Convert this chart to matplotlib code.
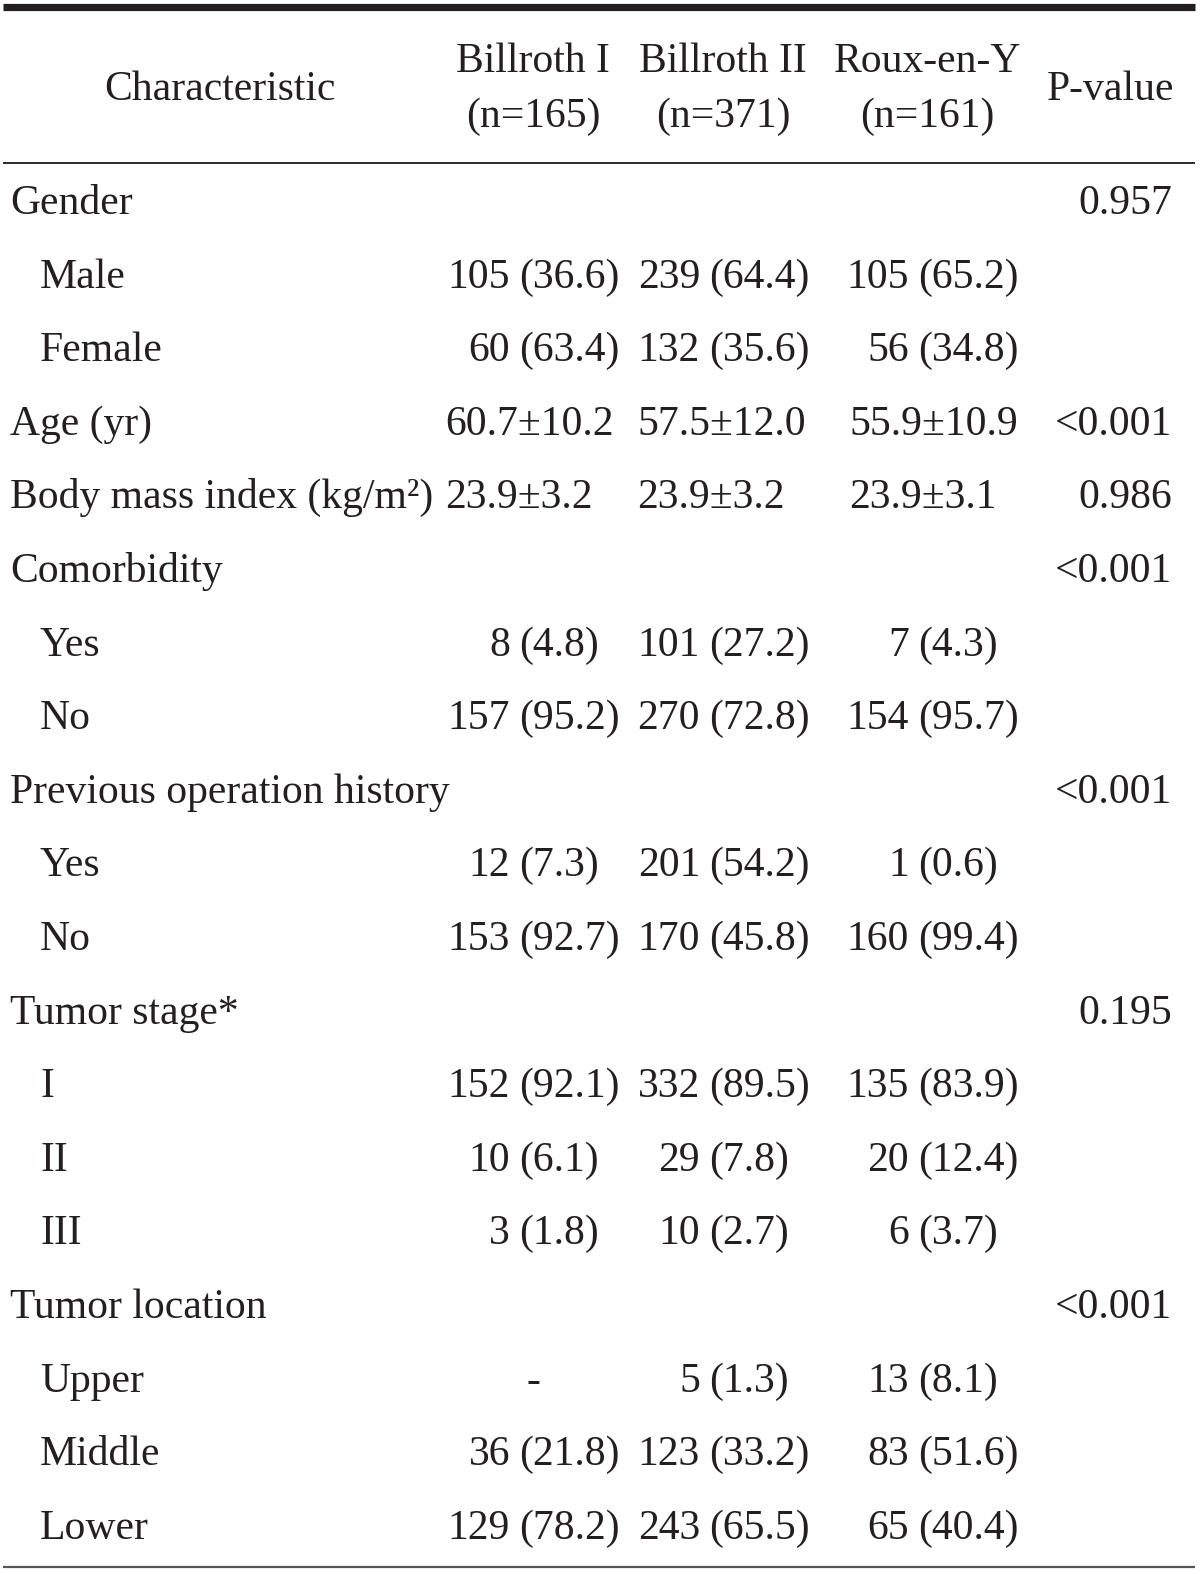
import matplotlib.pyplot as plt

# table content
headers = ["Billroth I\n(n=165)", "Billroth II\n(n=371)", "Roux-en-Y\n(n=161)"]
labels = ["Gender", "Male", "Female", "Age (yr)", "Body mass index (kg/m²)",
          "Comorbidity", "Yes", "No", "Previous operation history", "Yes", "No",
          "Tumor stage*", "I", "II", "III", "Tumor location", "Upper", "Middle", "Lower"]
indent = [0, 1, 1, 0, 0, 0, 1, 1, 0, 1, 1, 0, 1, 1, 1, 0, 1, 1, 1]
billroth1 = ["", "105 (36.6)", "60 (63.4)", "60.7±10.2", "23.9±3.2", "",
             "8 (4.8)", "157 (95.2)", "", "12 (7.3)", "153 (92.7)", "",
             "152 (92.1)", "10 (6.1)", "3 (1.8)", "", "-", "36 (21.8)", "129 (78.2)"]
billroth2 = ["", "239 (64.4)", "132 (35.6)", "57.5±12.0", "23.9±3.2", "",
             "101 (27.2)", "270 (72.8)", "", "201 (54.2)", "170 (45.8)", "",
             "332 (89.5)", "29 (7.8)", "10 (2.7)", "", "5 (1.3)", "123 (33.2)", "243 (65.5)"]
rouxy = ["", "105 (65.2)", "56 (34.8)", "55.9±10.9", "23.9±3.1", "",
         "7 (4.3)", "154 (95.7)", "", "1 (0.6)", "160 (99.4)", "",
         "135 (83.9)", "20 (12.4)", "6 (3.7)", "", "13 (8.1)", "83 (51.6)", "65 (40.4)"]
pvalues = ["0.957", "", "", "<0.001", "0.986", "<0.001", "", "", "<0.001", "", "",
           "0.195", "", "", "", "<0.001", "", "", ""]

W, H = 1200, 1574
fig = plt.figure(figsize=(W / 100, H / 100), dpi=100)
ax = fig.add_axes([0, 0, 1, 1])
ax.set_xlim(0, W)
ax.set_ylim(H, 0)
ax.axis("off")

font = dict(family="Liberation Serif", size=30, color="#231f20")

# rules
ax.plot([3, 1195], [6.5, 6.5], color="#231f20", lw=5.2, solid_capstyle="butt")
ax.plot([3, 1195], [162.5, 162.5], color="#2a2a2a", lw=1.4, solid_capstyle="butt")
ax.plot([3, 1195], [1566.5, 1566.5], color="#555555", lw=1.6, solid_capstyle="butt")

# header
ax.text(220, 100, "Characteristic", ha="center", va="baseline", **font)
col_centers = [533, 723, 927]
for xc, h in zip(col_centers, headers):
    top, bottom = h.split("\n")
    ax.text(xc, 72, top, ha="center", va="baseline", **font)
    ax.text(xc, 127, bottom, ha="center", va="baseline", **font)
ax.text(1111, 100, "P-value", ha="center", va="baseline", **font)

# body
paren_x = [519, 709, 918]
left_x = [445, 637, 849]
y0, dy = 214, 73.6
for i, lab in enumerate(labels):
    yb = y0 + i * dy
    ax.text(10 + 30 * indent[i], yb, lab, ha="left", va="baseline", **font)
    for j, col in enumerate([billroth1, billroth2, rouxy]):
        v = col[i]
        if not v:
            continue
        if "±" in v:
            ax.text(left_x[j], yb, v, ha="left", va="baseline", **font)
        elif "(" in v:
            n, p = v.split(" ", 1)
            ax.text(paren_x[j] - 9, yb, n, ha="right", va="baseline", **font)
            ax.text(paren_x[j], yb, p, ha="left", va="baseline", **font)
        else:
            ax.text(533, yb, v, ha="center", va="baseline", **font)
    if pvalues[i]:
        ax.text(1172, yb, pvalues[i], ha="right", va="baseline", **font)

fig.savefig("out.png", dpi=100, facecolor="white")
